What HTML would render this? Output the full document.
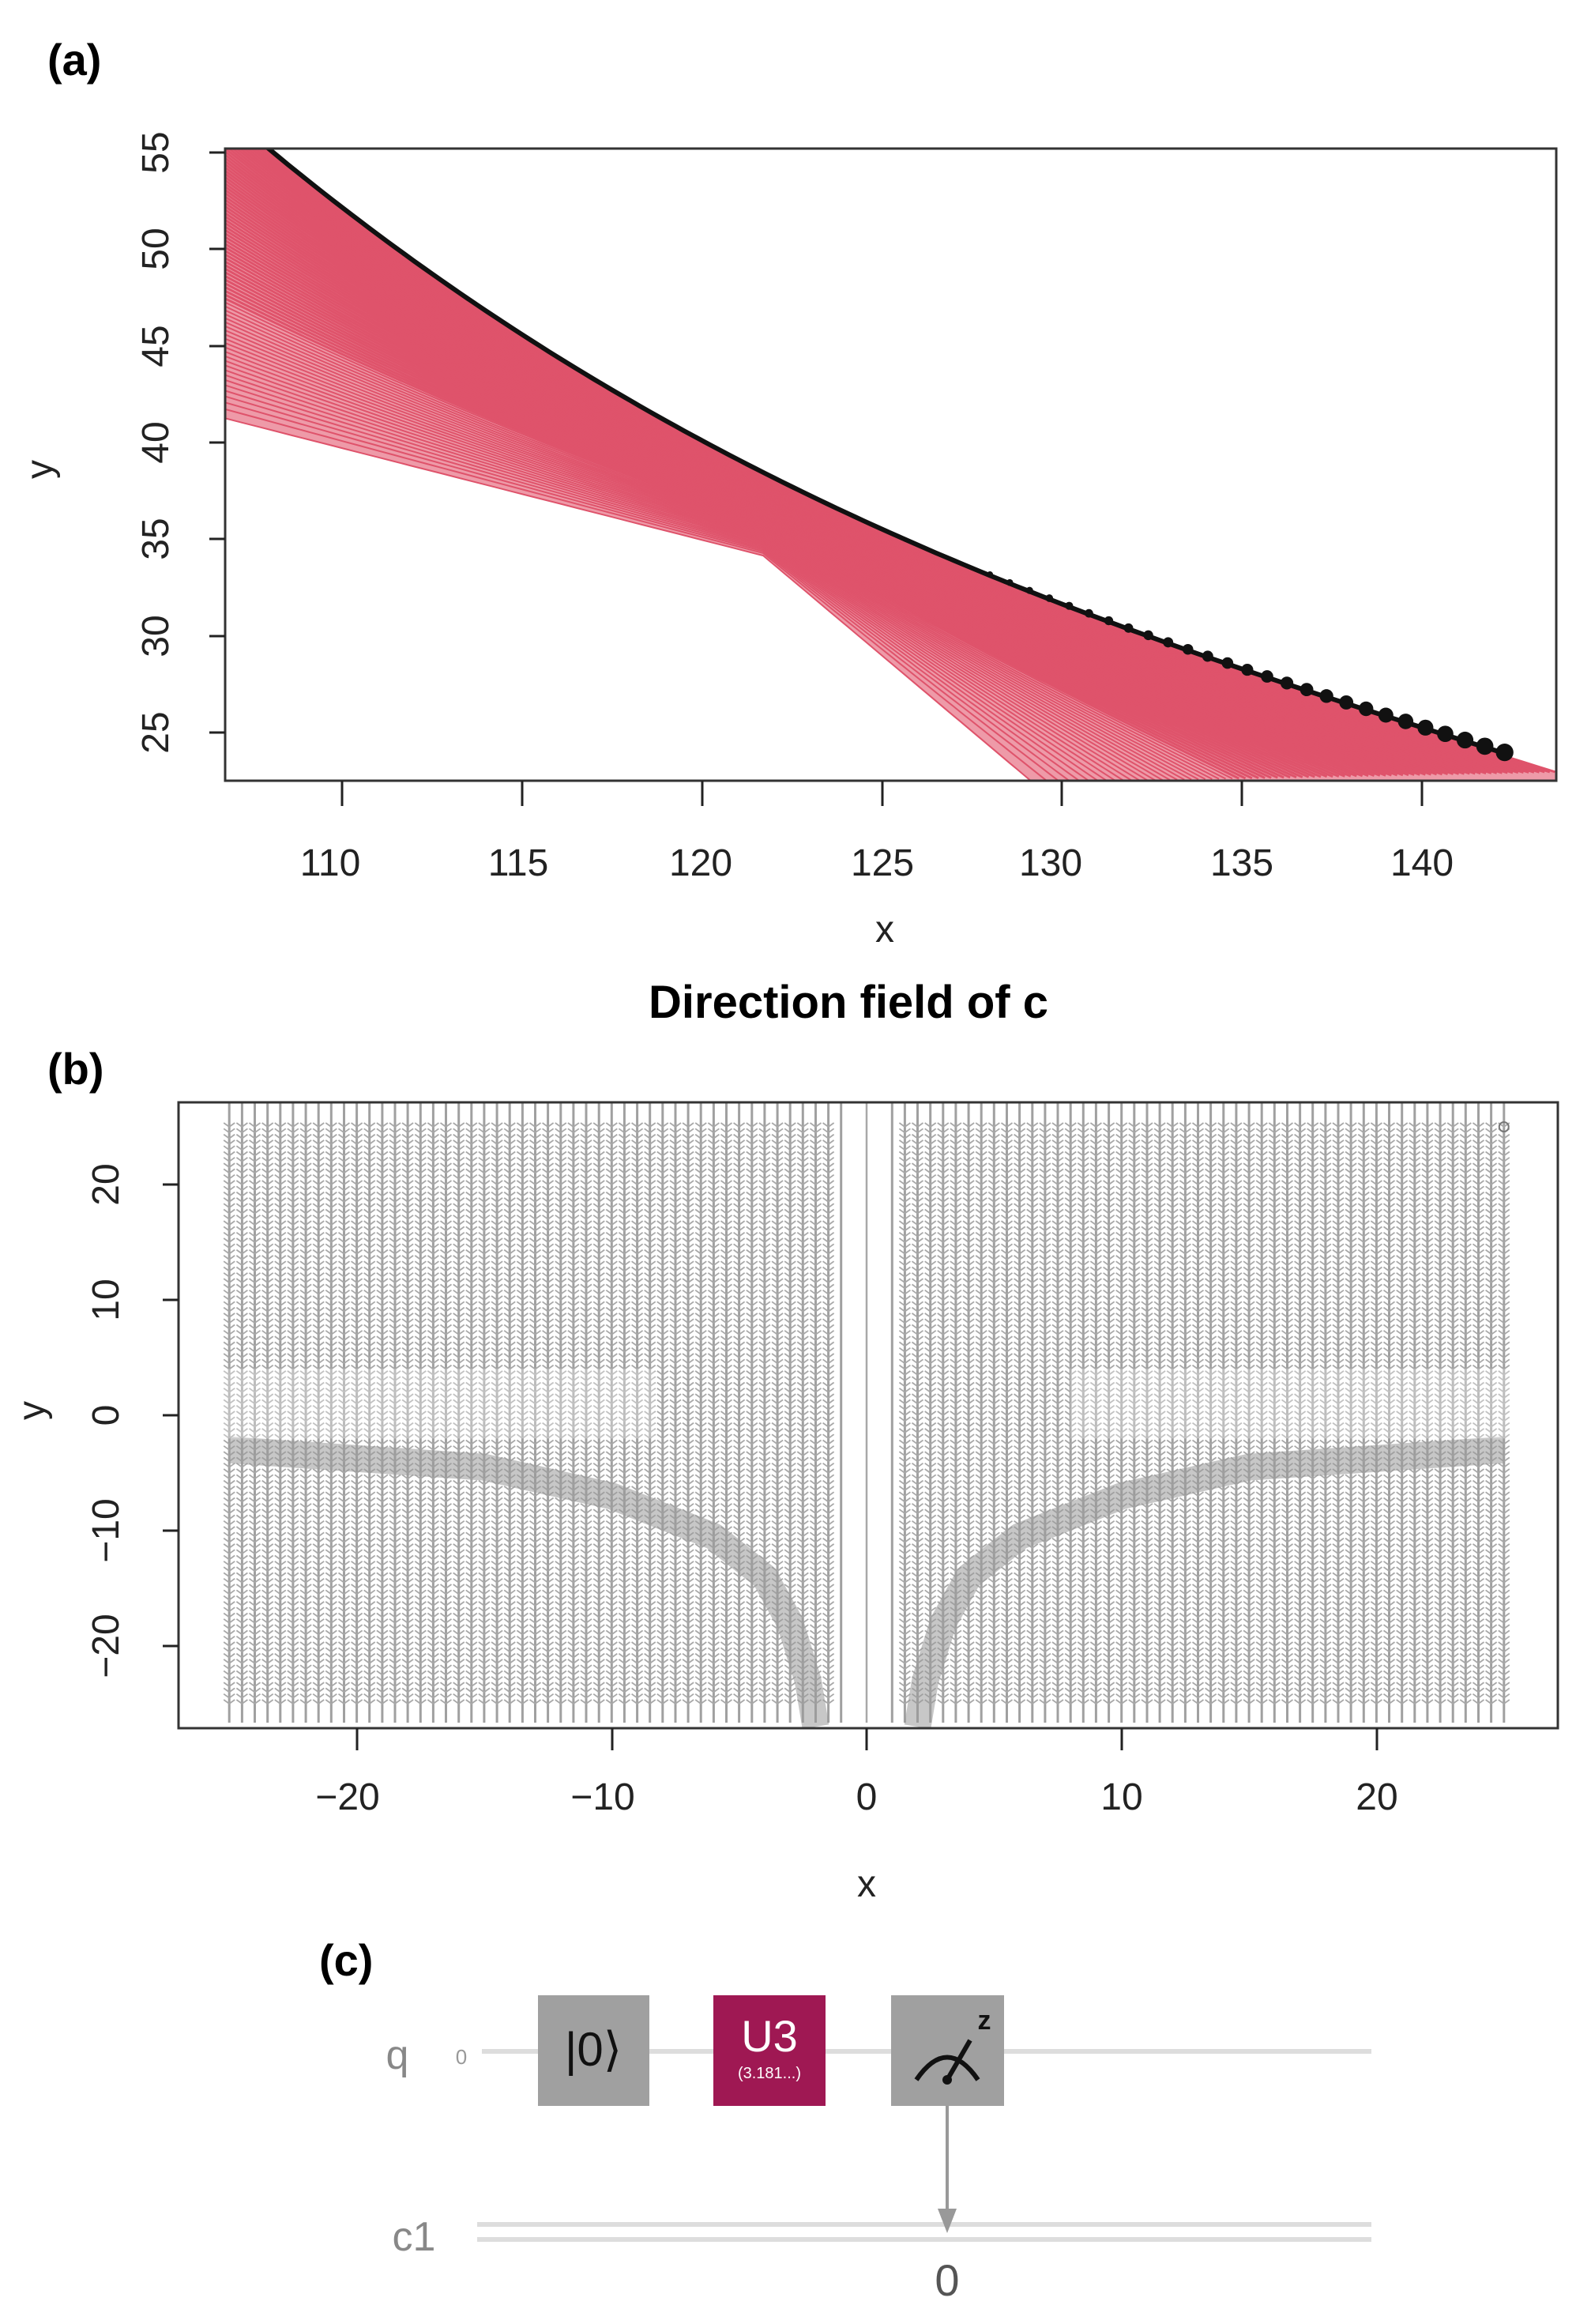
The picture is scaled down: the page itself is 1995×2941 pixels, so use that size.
<!DOCTYPE html>
<html><head><meta charset="utf-8">
<style>
html,body{margin:0;padding:0;background:#fff;}
svg{display:block;}
text{font-family:"Liberation Sans",sans-serif;}
</style></head>
<body>
<svg id="s" width="1995" height="2941" viewBox="0 0 1995 2941" xmlns="http://www.w3.org/2000/svg">
<rect width="1995" height="2941" fill="#fff"/>
<text x="60" y="95" font-size="56" font-weight="bold">(a)</text>
<g id="a"></g>
<rect x="285" y="188" width="1685" height="800" fill="none" stroke="#333" stroke-width="3"/>
<g stroke="#222" stroke-width="3">
<line x1="285" y1="193" x2="265" y2="193"/><line x1="285" y1="315" x2="265" y2="315"/><line x1="285" y1="438" x2="265" y2="438"/><line x1="285" y1="560" x2="265" y2="560"/><line x1="285" y1="682" x2="265" y2="682"/><line x1="285" y1="805" x2="265" y2="805"/><line x1="285" y1="927" x2="265" y2="927"/>
<line x1="433" y1="988" x2="433" y2="1020"/><line x1="661" y1="988" x2="661" y2="1020"/><line x1="889" y1="988" x2="889" y2="1020"/><line x1="1117" y1="988" x2="1117" y2="1020"/><line x1="1344" y1="988" x2="1344" y2="1020"/><line x1="1572" y1="988" x2="1572" y2="1020"/><line x1="1800" y1="988" x2="1800" y2="1020"/>
</g>
<g font-size="48" fill="#222" text-anchor="middle">
<text transform="translate(213,193) rotate(-90)">55</text>
<text transform="translate(213,315) rotate(-90)">50</text>
<text transform="translate(213,438) rotate(-90)">45</text>
<text transform="translate(213,560) rotate(-90)">40</text>
<text transform="translate(213,682) rotate(-90)">35</text>
<text transform="translate(213,805) rotate(-90)">30</text>
<text transform="translate(213,927) rotate(-90)">25</text>
<text x="418" y="1108">110</text><text x="656" y="1108">115</text><text x="887" y="1108">120</text><text x="1117" y="1108">125</text><text x="1330" y="1108">130</text><text x="1572" y="1108">135</text><text x="1800" y="1108">140</text>
<text x="1120" y="1192">x</text>
<text transform="translate(66,594) rotate(-90)">y</text>
</g>
<text x="1074" y="1288" font-size="58" font-weight="bold" text-anchor="middle">Direction field of c</text>
<text x="60" y="1372" font-size="56" font-weight="bold">(b)</text>
<clipPath id="cb"><rect x="226" y="1395" width="1746" height="792"/></clipPath>
<g id="b" clip-path="url(#cb)"></g>
<rect x="226" y="1395" width="1746" height="792" fill="none" stroke="#333" stroke-width="3"/>
<g stroke="#222" stroke-width="3">
<line x1="452" y1="2187" x2="452" y2="2215"/><line x1="775" y1="2187" x2="775" y2="2215"/><line x1="1097" y1="2187" x2="1097" y2="2215"/><line x1="1420" y1="2187" x2="1420" y2="2215"/><line x1="1743" y1="2187" x2="1743" y2="2215"/>
<line x1="226" y1="1499" x2="206" y2="1499"/><line x1="226" y1="1645" x2="206" y2="1645"/><line x1="226" y1="1791" x2="206" y2="1791"/><line x1="226" y1="1937" x2="206" y2="1937"/><line x1="226" y1="2083" x2="206" y2="2083"/>
</g>
<g font-size="48" fill="#222" text-anchor="middle">
<text x="440" y="2290">−20</text><text x="763" y="2290">−10</text><text x="1097" y="2290">0</text><text x="1420" y="2290">10</text><text x="1743" y="2290">20</text>
<text transform="translate(150,1499) rotate(-90)">20</text>
<text transform="translate(150,1645) rotate(-90)">10</text>
<text transform="translate(150,1791) rotate(-90)">0</text>
<text transform="translate(150,1937) rotate(-90)">−10</text>
<text transform="translate(150,2083) rotate(-90)">−20</text>
<text x="1097" y="2400">x</text>
<text transform="translate(56,1785) rotate(-90)">y</text>
</g>
<text x="404" y="2500" font-size="56" font-weight="bold">(c)</text>
<line x1="610" y1="2596" x2="1736" y2="2596" stroke="#ddd" stroke-width="6"/>
<line x1="604" y1="2815" x2="1736" y2="2815" stroke="#ddd" stroke-width="6"/>
<line x1="604" y1="2834" x2="1736" y2="2834" stroke="#ddd" stroke-width="6"/>
<text x="503" y="2618" font-family="Liberation Mono,monospace" font-size="52" fill="#888" text-anchor="middle">q</text>
<text x="584" y="2612" font-family="Liberation Mono,monospace" font-size="26" fill="#999" text-anchor="middle">0</text>
<text x="524" y="2848" font-family="Liberation Mono,monospace" font-size="52" fill="#888" text-anchor="middle">c1</text>
<rect x="681" y="2525" width="141" height="140" fill="#a0a0a0"/>
<text x="751" y="2614" font-size="60" fill="#111" text-anchor="middle">|0⟩</text>
<rect x="903" y="2525" width="142" height="140" fill="#9f1853"/>
<text x="974" y="2596" font-size="56" fill="#fff" text-anchor="middle">U3</text>
<text x="974" y="2630" font-size="20" fill="#fff" text-anchor="middle">(3.181...)</text>
<rect x="1128" y="2525" width="143" height="140" fill="#a0a0a0"/>
<path d="M1160 2632 Q1199 2575 1238 2632" fill="none" stroke="#111" stroke-width="6"/>
<line x1="1199" y1="2632" x2="1228" y2="2582" stroke="#111" stroke-width="6"/>
<circle cx="1199" cy="2632" r="6" fill="#111"/>
<text x="1246" y="2568" font-size="34" font-weight="bold" fill="#111" text-anchor="middle">z</text>
<line x1="1199" y1="2665" x2="1199" y2="2800" stroke="#999" stroke-width="4"/>
<path d="M1187 2795 L1211 2795 L1199 2826 Z" fill="#999"/>
<text x="1199" y="2905" font-size="56" fill="#555" text-anchor="middle">0</text>
</svg>
<script>
(function(){
var NS="http://www.w3.org/2000/svg";
function el(p,t,a){var e=document.createElementNS(NS,t);for(var k in a)e.setAttribute(k,a[k]);p.appendChild(e);return e;}
var ga=document.getElementById('a');
function X(x){return 285+(x-106.75)*45.56;}
function Y(y){return 188+(55.25-y)*24.47;}
function curveY(x){var d=x-120;return 40-1.0*d+0.018*d*d-0.000255*d*d*d;}
function A(u){
 if(u<0.4){var t=u/0.4;return [106.75+t*(121.7-106.75),41.3+t*(34.2-41.3)];}
 var t=(u-0.4)/0.6;return [121.7+t*(129.2-121.7),34.2+t*(22.45-34.2)];}
function C(u){var x=106.75+u*(143.7-106.75);return [x,curveY(x)];}
function pt(s,u){var a=A(u),c=C(u);var w=Math.pow(s,0.8);return [(1-w)*a[0]+w*c[0],(1-w)*a[1]+w*c[1]];}
var d="";
for(var i=0;i<=80;i++){var p=pt(0,i/80);d+=(i?"L":"M")+X(p[0]).toFixed(1)+" "+Y(p[1]).toFixed(1);}
d+="L"+X(143.7)+" "+Y(22.45);
for(var i=80;i>=0;i--){var p=pt(1,i/80);d+="L"+X(p[0]).toFixed(1)+" "+Y(p[1]).toFixed(1);}
var cp=el(ga,'clipPath',{id:'ca'});el(cp,'rect',{x:285,y:188,width:1685,height:800});
var g2=el(ga,'g',{'clip-path':'url(#ca)'});
el(g2,'path',{d:d+"Z",fill:'#ee9aa8'});
for(var k=0;k<=80;k++){var s=k/80;var dd="";
 for(var i=0;i<=80;i++){var p=pt(s,i/80);dd+=(i?"L":"M")+X(p[0]).toFixed(1)+" "+Y(p[1]).toFixed(1);}
 el(g2,'path',{d:dd,fill:'none',stroke:'#df536b','stroke-width':k<25?2:3});}
var bd="";for(var x=107.5;x<=142.5;x+=0.25){bd+=(x>107.5?"L":"M")+X(x).toFixed(1)+" "+Y(curveY(x)+0.15).toFixed(1);}
el(g2,'path',{d:bd,fill:'none',stroke:'#111','stroke-width':6});
for(var x=128;x<=142.6;x+=0.55){el(g2,'circle',{cx:X(x),cy:Y(curveY(x)+0.2),r:4+(x-128)*0.5,fill:'#111'});}
var gb=document.getElementById('b');
function BX(x){return 1097+x*32.27;}
function BY(y){return 1791-y*14.6;}
var vd="";
for(var i=-50;i<=50;i++){var x=i*0.5;if(Math.abs(x)<0.6&&i!==0)continue;
 vd+="M"+BX(x).toFixed(1)+" 1395V2180";}
el(gb,'path',{d:vd,stroke:'#a0a0a0','stroke-width':3,fill:'none'});
var hd="";
for(var i=-50;i<=50;i++){var x=i*0.5;if(Math.abs(x)<1.5)continue;
 for(var j=-50;j<=50;j++){var y=j*0.5;if(Math.abs(y)>25.5)continue;var px=BX(x),py=BY(y);
  hd+="M"+(px-7).toFixed(1)+" "+(py-5).toFixed(1)+"L"+px.toFixed(1)+" "+py.toFixed(1)+"L"+(px+7).toFixed(1)+" "+(py-5).toFixed(1);}}
el(gb,'path',{d:hd,stroke:'#a8a8a8','stroke-width':1.8,fill:'none'});
function band(sg){var pts=[[-25,-3],[-15,-4.5],[-10,-7],[-6,-10.5],[-4,-14],[-3,-18],[-2.3,-23],[-2,-27]];
 var dd="";pts.forEach(function(p,i){dd+=(i?"L":"M")+BX(p[0]*sg).toFixed(1)+" "+BY(p[1]).toFixed(1);});
 el(gb,'path',{d:dd,stroke:'#999','stroke-width':34,fill:'none',opacity:0.55,'stroke-linejoin':'round'});}
band(1);band(-1);
el(gb,'rect',{x:BX(-25)-10,y:BY(4),width:BX(-8)-BX(-25),height:BY(-2)-BY(4),fill:'#fff',opacity:0.3});
el(gb,'rect',{x:BX(8),y:BY(4),width:BX(-8)-BX(-25)+10,height:BY(-2)-BY(4),fill:'#fff',opacity:0.3});
el(gb,'rect',{x:BX(-0.6)+2,y:1395,width:BX(0.6)-BX(-0.6)-4,height:792,fill:'#fff'});
el(gb,'line',{x1:BX(0),y1:1395,x2:BX(0),y2:2180,stroke:'#a8a8a8','stroke-width':2.5});
el(gb,'circle',{cx:BX(25),cy:BY(25),r:6,fill:'none',stroke:'#777','stroke-width':2});
})();
</script>
</body></html>
